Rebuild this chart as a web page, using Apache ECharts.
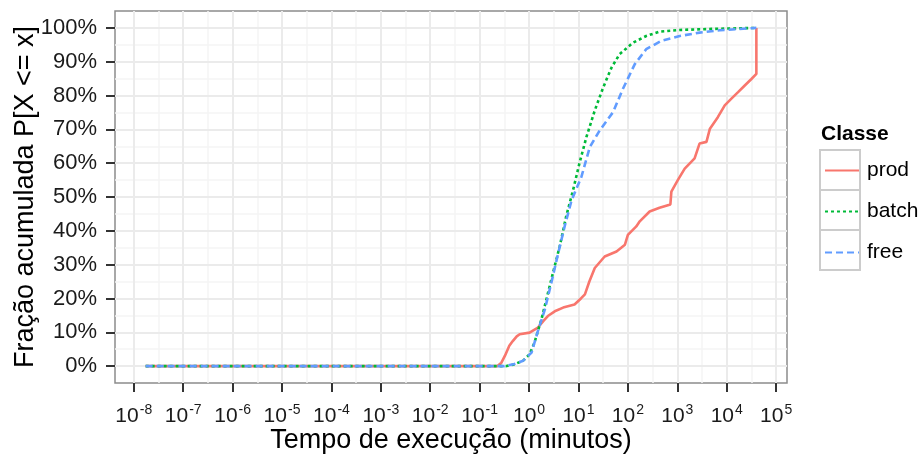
<!DOCTYPE html>
<html>
<head>
<meta charset="utf-8">
<script src="https://cdn.jsdelivr.net/npm/echarts@6/dist/echarts.min.js"></script>
<style>
html, body { margin: 0; padding: 0; background: #fff; }
#chart { width: 922px; height: 457px; }
</style>
</head>
<body>
<div id="chart"></div>
<script>
// eixo x: log10 do tempo (minutos)
var xTicks = [-8, -7, -6, -5, -4, -3, -2, -1, 0, 1, 2, 3, 4, 5];
var xMinor = [-7.5, -6.5, -5.5, -4.5, -3.5, -2.5, -1.5, -0.5, 0.5, 1.5, 2.5, 3.5, 4.5];
var yTicks = [0, 0.1, 0.2, 0.3, 0.4, 0.5, 0.6, 0.7, 0.8, 0.9, 1];
var yMinor = [0.05, 0.15, 0.25, 0.35, 0.45, 0.55, 0.65, 0.75, 0.85, 0.95];
var classes = ['prod', 'batch', 'free'];

// pontos: [log10(minutos), fracao]
var prodData = [[-7.76,0],[-0.64,0],[-0.56,0.01],[-0.49,0.03],[-0.40,0.06],[-0.33,0.074],[-0.25,0.088],[-0.19,0.094],[0.01,0.099],[0.18,0.114],[0.30,0.135],[0.38,0.148],[0.52,0.162],[0.69,0.173],[0.92,0.182],[1.05,0.20],[1.13,0.212],[1.22,0.25],[1.33,0.29],[1.53,0.324],[1.77,0.339],[1.94,0.359],[2.0,0.388],[2.17,0.413],[2.24,0.428],[2.44,0.457],[2.64,0.468],[2.86,0.478],[2.88,0.516],[3.01,0.55],[3.15,0.584],[3.35,0.614],[3.45,0.658],[3.59,0.663],[3.66,0.702],[3.82,0.736],[3.96,0.771],[4.09,0.79],[4.23,0.81],[4.36,0.829],[4.5,0.849],[4.6,0.864],[4.6,1.0]];
var batchData = [[-7.76,0],[-0.46,0],[-0.3,0.005],[-0.12,0.016],[0.01,0.035],[0.11,0.07],[0.25,0.138],[0.45,0.256],[0.62,0.354],[0.75,0.442],[0.89,0.52],[1.02,0.6],[1.16,0.677],[1.33,0.756],[1.5,0.824],[1.67,0.883],[1.83,0.922],[2.1,0.956],[2.37,0.976],[2.64,0.989],[3.05,0.994],[3.7,0.997],[4.6,1.0]];
var freeData = [[-7.76,0],[-0.5,0],[-0.3,0.006],[-0.12,0.016],[0.05,0.04],[0.18,0.104],[0.32,0.168],[0.45,0.246],[0.59,0.334],[0.72,0.413],[0.86,0.49],[1.06,0.56],[1.23,0.648],[1.43,0.697],[1.7,0.751],[1.9,0.82],[2.14,0.893],[2.37,0.937],[2.68,0.962],[3.05,0.976],[3.45,0.986],[3.86,0.993],[4.6,1.0]];

var colors = ['#F8766D', '#00BA38', '#619CFF'];
var font = 'Liberation Sans, Arial, sans-serif';

var myChart = echarts.init(document.getElementById('chart'));

function lineSerie(name, data, color, dash) {
	return {
		name: name,
		type: 'line',
		data: data,
		symbol: 'none',
		xAxisIndex: 0,
		yAxisIndex: 0,
		lineStyle: { color: color, width: 2.6, type: dash },
		itemStyle: { color: color },
		z: 5
	};
}

var option = {
	animation: false,
	backgroundColor: '#fff',
	title: {
		text: 'Classe',
		left: 821,
		top: 124,
		textStyle: { fontFamily: font, fontSize: 21, fontWeight: 'bold', color: '#000' },
		padding: 0
	},
	legend: {
		data: classes,
		orient: 'vertical',
		left: 824,
		top: 160,
		itemWidth: 34,
		itemHeight: 20,
		itemGap: 20,
		padding: 0,
		itemStyle: { color: 'rgba(0,0,0,0)', borderWidth: 0 },
		textStyle: { fontFamily: font, fontSize: 21, color: '#000', lineHeight: 20, padding: [0, 0, 0, 3] }
	},
	graphic: [
		{ type: 'rect', shape: { x: 820, y: 150, width: 40, height: 40 }, style: { fill: '#fff', stroke: '#CCCCCC', lineWidth: 2 }, z: -1 },
		{ type: 'rect', shape: { x: 820, y: 190, width: 40, height: 40 }, style: { fill: '#fff', stroke: '#CCCCCC', lineWidth: 2 }, z: -1 },
		{ type: 'rect', shape: { x: 820, y: 230, width: 40, height: 40 }, style: { fill: '#fff', stroke: '#CCCCCC', lineWidth: 2 }, z: -1 }
	],
	grid: {
		left: 115,
		right: 135,
		top: 11,
		bottom: 74,
		containLabel: false,
		outerBoundsMode: 'none',
		show: true,
		backgroundColor: '#fff',
		borderColor: '#8C8C8C',
		borderWidth: 1.5
	},
	xAxis: [{
		type: 'value',
		min: -8.38,
		max: 5.22,
		name: 'Tempo de execução (minutos)',
		nameLocation: 'middle',
		nameGap: 44,
		nameMoveOverlap: false,
		nameTextStyle: { fontFamily: font, fontSize: 27, color: '#000' },
		axisLine: { show: false, onZero: false },
		axisTick: { customValues: xTicks, length: 9, lineStyle: { color: '#333', width: 2 } },
		axisLabel: {
			customValues: xTicks,
			margin: 20,
			formatter: function (v) { return '{b|10}{s|' + Math.round(v) + '}'; },
			rich: {
				b: { fontFamily: font, fontSize: 21, color: '#1a1a1a', verticalAlign: 'bottom' },
				s: { fontFamily: font, fontSize: 14, color: '#1a1a1a', verticalAlign: 'bottom', padding: [0, 0, 10, 1] }
			}
		},
		splitLine: { show: true, customValues: xTicks, lineStyle: { color: '#EBEBEB', width: 2 } },
		z: 2
	}, {
		type: 'value',
		min: -8.38,
		max: 5.22,
		position: 'bottom',
		axisLine: { show: false, onZero: false },
		axisTick: { show: false, customValues: xMinor },
		axisLabel: { show: false },
		splitLine: { show: true, customValues: xMinor, lineStyle: { color: '#F5F5F5', width: 1.5 } },
		z: 1
	}],
	yAxis: [{
		type: 'value',
		min: -0.05,
		max: 1.05,
		name: 'Fração acumulada P[X <= x]',
		nameLocation: 'middle',
		nameGap: 76,
		nameMoveOverlap: false,
		nameTextStyle: { fontFamily: font, fontSize: 27, color: '#000' },
		axisLine: { show: false, onZero: false },
		axisTick: { customValues: yTicks, length: 9, lineStyle: { color: '#333', width: 2 } },
		axisLabel: {
			customValues: yTicks,
			margin: 18,
			fontFamily: font,
			fontSize: 22,
			color: '#1a1a1a',
			formatter: function (v) { return Math.round(v * 100) + '%'; }
		},
		splitLine: { show: true, customValues: yTicks, lineStyle: { color: '#EBEBEB', width: 2 } },
		z: 2
	}, {
		type: 'value',
		min: -0.05,
		max: 1.05,
		position: 'left',
		axisLine: { show: false, onZero: false },
		axisTick: { show: false, customValues: yMinor },
		axisLabel: { show: false },
		splitLine: { show: true, customValues: yMinor, lineStyle: { color: '#F5F5F5', width: 1.5 } },
		z: 1
	}],
	series: [
		lineSerie('prod', prodData, colors[0], 'solid'),
		lineSerie('batch', batchData, colors[1], [3, 3]),
		lineSerie('free', freeData, colors[2], [7, 4])
	]
};

myChart.setOption(option);
</script>
</body>
</html>
